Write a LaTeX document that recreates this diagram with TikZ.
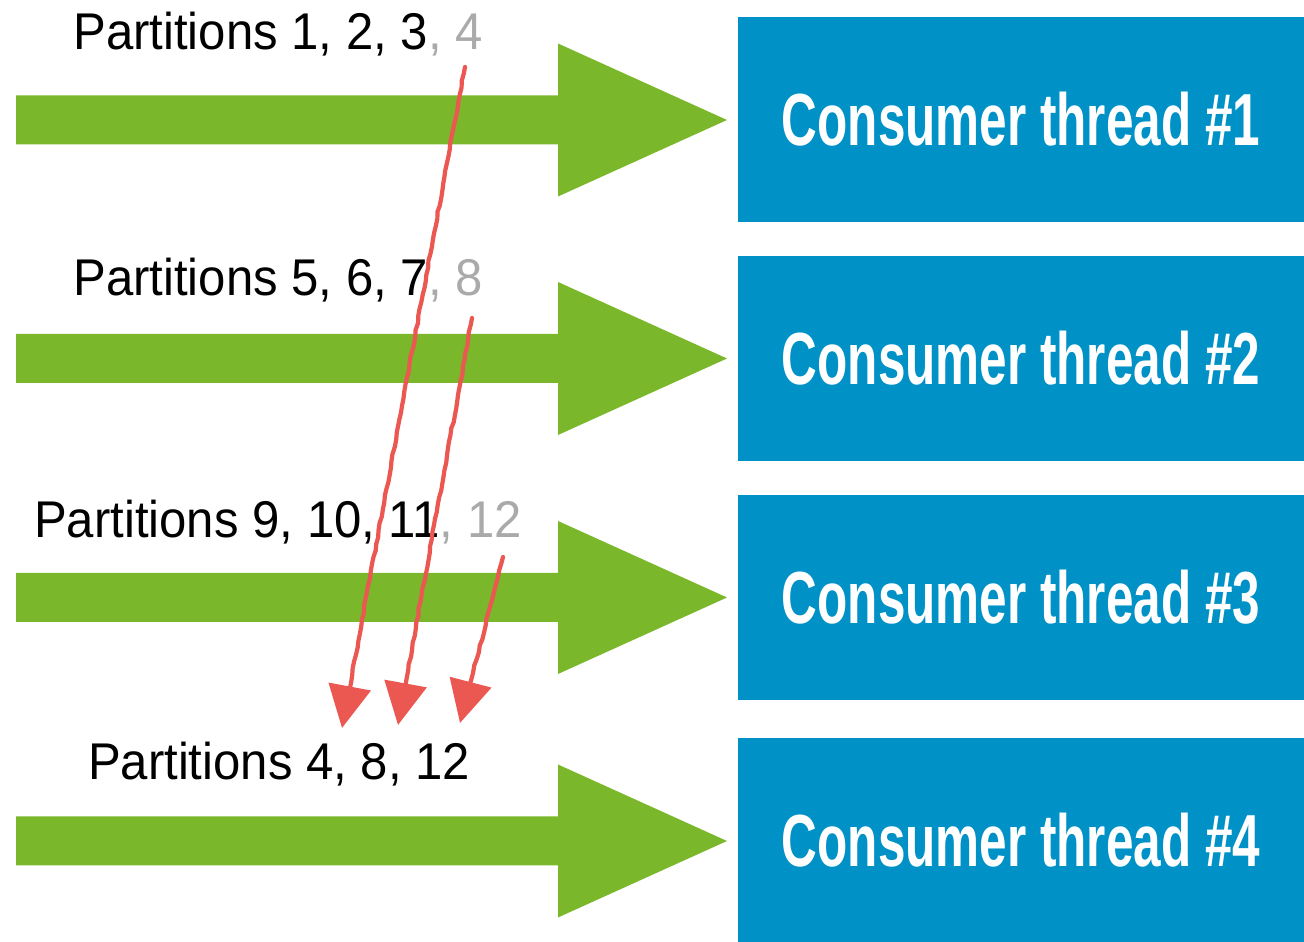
\documentclass[tikz,border=0pt]{standalone}
\usepackage{fontspec}
\setmainfont{Liberation Sans}
\usepackage{graphicx}
\usepackage{xcolor}
\usepackage{tikz}
\usetikzlibrary{arrows.meta,decorations.pathmorphing}

\definecolor{flowgreen}{RGB}{122,183,42}
\definecolor{threadblue}{RGB}{0,145,198}
\definecolor{movered}{RGB}{235,88,82}
\definecolor{movedgray}{RGB}{170,170,170}

\newcommand{\partlabel}[1]{\scalebox{0.95}[1]{\fontsize{14.7}{17}\selectfont #1}}
\newcommand{\threadtext}[1]{\scalebox{0.67}[1]{\fontsize{21}{24}\selectfont\bfseries #1}}

\tikzset{
  thread/.style={fill=threadblue, text=white, minimum width=5.66cm, minimum height=2.05cm, inner sep=0pt},
  partlbl/.style={anchor=base, inner sep=0pt},
  move/.style={draw=movered, line width=1.2pt, line cap=round,
    -{Triangle[width=12pt,length=12pt]},
    decorate, decoration={random steps, segment length=2pt, amplitude=0.2pt, pre length=2pt, post length=6pt}}
}

\begin{document}
\begin{tikzpicture}
  \useasboundingbox (0,0) rectangle (13.04,-9.42);

  % Incoming partitions
  \foreach \c in {1.20,3.585,5.975,8.41} {
    \fill[flowgreen] (0.16,{-\c+0.245}) -- (5.58,{-\c+0.245}) -- (5.58,{-\c+0.765})
      -- (7.27,-\c) -- (5.58,{-\c-0.765}) -- (5.58,{-\c-0.245}) -- (0.16,{-\c-0.245}) -- cycle;
  }

  % Nodes
  \node[thread] (t1) at (10.21,-1.195) {\threadtext{Consumer thread \#1}};
  \node[thread] (t2) at (10.21,-3.585) {\threadtext{Consumer thread \#2}};
  \node[thread] (t3) at (10.21,-5.975) {\threadtext{Consumer thread \#3}};
  \node[thread, minimum height=2.04cm] (t4) at (10.21,-8.40) {\threadtext{Consumer thread \#4}};

  \node[partlbl] (p1) at (2.78,-0.50) {\partlabel{Partitions 1, 2, 3\textcolor{movedgray}{, 4}}};
  \node[partlbl] (p2) at (2.78,-2.96) {\partlabel{Partitions 5, 6, 7\textcolor{movedgray}{, 8}}};
  \node[partlbl] (p3) at (2.78,-5.38) {\partlabel{Partitions 9, 10, 11\textcolor{movedgray}{, 12}}};
  \node[partlbl] (p4) at (2.79,-7.80) {\partlabel{Partitions 4, 8, 12}};

  % Moves
  \coordinate (from4) at (4.65,-0.67);
  \coordinate (from8) at (4.72,-3.18);
  \coordinate (from12) at (5.03,-5.57);
  \coordinate (to4) at (3.42,-7.28);
  \coordinate (to8) at (3.98,-7.25);
  \coordinate (to12) at (4.60,-7.23);

  \draw[move] (from4) -- (to4);
  \draw[move] (from8) -- (to8);
  \draw[move] (from12) -- (to12);
\end{tikzpicture}
\end{document}
